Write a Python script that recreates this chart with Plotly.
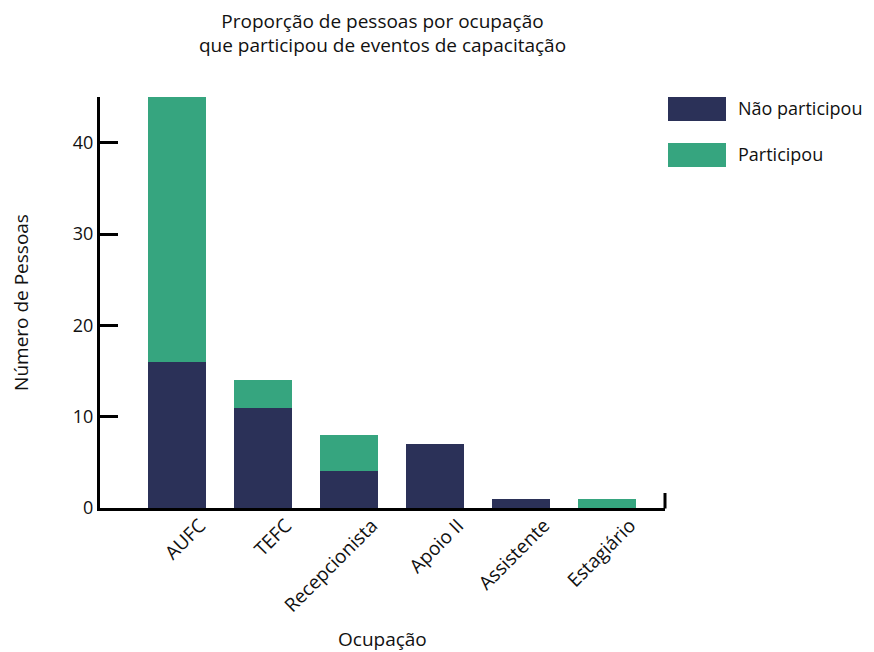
import plotly.graph_objects as go

categories = ["AUFC", "TEFC", "Recepcionista", "Apoio II", "Assistente", "Estagiário"]
nao_participou = [16, 11, 4, 7, 1, 0]
participou = [29, 3, 4, 0, 0, 1]
y_ticks = [0, 10, 20, 30, 40]

NAVY = "#2b3158"
GREEN = "#36a57f"
FONT = "Open Sans"
TXT = "#111111"

# page has an 8px body margin; figure sized so it fits the window
W, H = 866, 644
OFF = 8
L, T = 92, 89
PW, PH = 565, 411
R = W - L - PW
B = H - T - PH


def px(sx):
    return (sx - OFF - L) / PW


def py(sy):
    return 1 - (sy - OFF - T) / PH


fig = go.Figure()
fig.add_trace(go.Bar(x=categories, y=nao_participou, name="Não participou",
                     marker=dict(color=NAVY, line=dict(width=0)), width=0.674))
fig.add_trace(go.Bar(x=categories, y=participou, name="Participou",
                     marker=dict(color=GREEN, line=dict(width=0)), width=0.674))

fig.update_layout(
    barmode="stack",
    width=W, height=H,
    margin=dict(l=L, r=R, t=T, b=B, pad=0, autoexpand=False),
    plot_bgcolor="white", paper_bgcolor="white",
    showlegend=False,
    font=dict(family=FONT, size=18, color=TXT),
    title=dict(text="Proporção de pessoas por ocupação<br>que participou de eventos de capacitação",
               x=(382.5 - OFF) / W, xanchor="center", y=1 - (27.5 - OFF) / H, yanchor="middle",
               font=dict(size=19, family=FONT, color=TXT)),
    xaxis=dict(range=[-0.895, 5.674], showline=True, linecolor="black", linewidth=3,
               ticks="", tickangle=-45, ticklabelshift=23, ticklabelstandoff=-4, showgrid=False,
               tickfont=dict(size=19), automargin=False),
    yaxis=dict(range=[0, 45], showline=True, linecolor="black", linewidth=3,
               tickvals=y_ticks, ticks="inside", ticklen=18, tickwidth=3, tickcolor="black",
               showgrid=False, zeroline=False, tickfont=dict(size=18), automargin=False,
               title=dict(text="Número de Pessoas", standoff=44, font=dict(size=19))),
)

# x axis title
fig.add_annotation(text="Ocupação", xref="paper", yref="paper", showarrow=False,
                   x=0.5, xanchor="center", y=py(639), yanchor="middle",
                   font=dict(size=19, family=FONT, color=TXT))

# end mark on the x axis
fig.add_shape(type="line", xref="paper", yref="paper", x0=1, x1=1, y0=py(508.5), y1=py(493),
              line=dict(color="black", width=3))

# manual legend with large swatches
legend_items = [("Não participou", NAVY), ("Participou", GREEN)]
for i, (name, col) in enumerate(legend_items):
    ytop = 97 + i * 46
    fig.add_shape(type="rect", xref="paper", yref="paper",
                  x0=px(668), x1=px(726), y0=py(ytop + 24), y1=py(ytop),
                  line=dict(width=0), fillcolor=col, layer="above")
    fig.add_annotation(text=name, xref="paper", yref="paper", showarrow=False,
                       x=px(736), xanchor="left", y=py(ytop + 11), yanchor="middle",
                       font=dict(size=18, family=FONT, color=TXT))

fig.write_html("out.html")
